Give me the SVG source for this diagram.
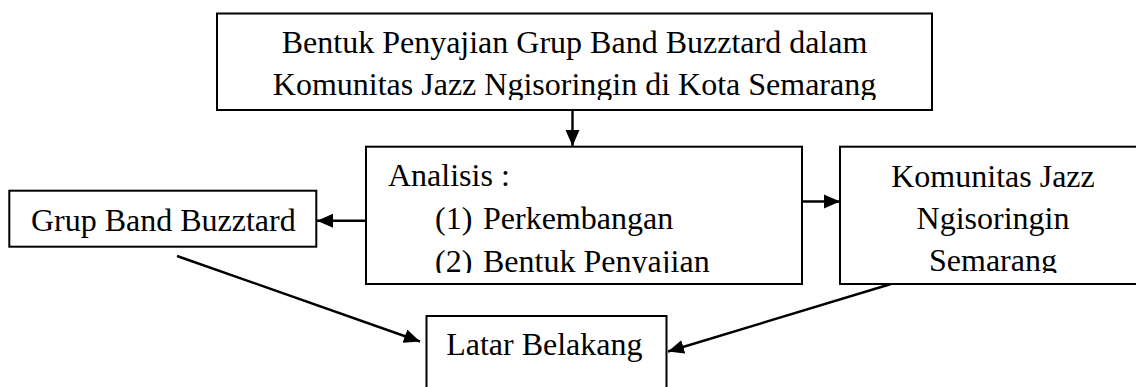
<svg xmlns="http://www.w3.org/2000/svg" width="1136" height="387" viewBox="0 0 1136 387">
<style>
.box{fill:#fff;stroke:#000;stroke-width:2}
.t{font-family:"Liberation Serif","Times New Roman",serif;font-size:32px;fill:#000}
.m{text-anchor:middle}
.c{stroke:#000;stroke-width:2.4;fill:none;marker-end:url(#ah)}
</style>
<defs>
<marker id="ah" viewBox="0 0 16 14" refX="16" refY="7" markerWidth="16" markerHeight="15" orient="auto" markerUnits="userSpaceOnUse">
<path d="M0,0 L16,7 L0,14 Z" fill="#000"/>
</marker>
<clipPath id="cTop"><rect x="217" y="13" width="715" height="87"/></clipPath>
<clipPath id="cMid"><rect x="360" y="146" width="800" height="127"/></clipPath>
</defs>
<rect width="1136" height="387" fill="#fff"/>
<g id="connectors">
<line class="c" x1="572.5" y1="110" x2="572.5" y2="146"/>
<line class="c" x1="366" y1="220.7" x2="317" y2="220.7"/>
<line class="c" x1="802" y1="201.5" x2="840" y2="201.5"/>
<line class="c" x1="177" y1="256" x2="420" y2="341.5"/>
<line class="c" x1="891" y1="284" x2="668" y2="351.5"/>
</g>
<g id="node-top">
<rect class="box" x="217" y="13.5" width="715" height="96.5"/>
<g clip-path="url(#cTop)">
<text class="t m" x="574.5" y="53.3">Bentuk Penyajian Grup Band Buzztard dalam</text>
<text class="t m" x="574.5" y="95.3">Komunitas Jazz Ngisoringin di Kota Semarang</text>
</g>
</g>
<g id="node-analisis">
<rect class="box" x="366" y="146.7" width="436" height="137.3"/>
<g clip-path="url(#cMid)">
<text class="t" x="388" y="186">Analisis :</text>
<text class="t" x="435" y="229">(1)</text>
<text class="t" x="483" y="229">Perkembangan</text>
<text class="t" x="435" y="272">(2)</text>
<text class="t" x="483" y="272">Bentuk Penyajian</text>
</g>
</g>
<g id="node-komunitas">
<rect class="box" x="840" y="146.7" width="310" height="137.3"/>
<g clip-path="url(#cMid)">
<text class="t m" x="993" y="186.5">Komunitas Jazz</text>
<text class="t m" x="993" y="228.5">Ngisoringin</text>
<text class="t m" x="993" y="271">Semarang</text>
</g>
</g>
<g id="node-grup">
<rect class="box" x="9.3" y="190.7" width="307" height="56"/>
<text class="t m" x="163.3" y="230.7">Grup Band Buzztard</text>
</g>
<g id="node-latar">
<rect class="box" x="426.5" y="316" width="240" height="90"/>
<text class="t m" x="544.3" y="355">Latar Belakang</text>
</g>
</svg>
